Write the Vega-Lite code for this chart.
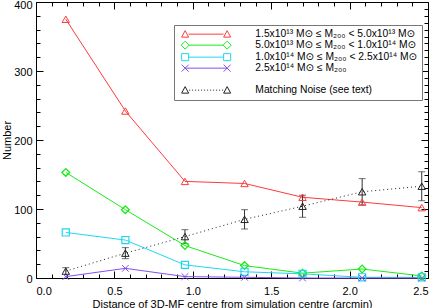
{
  "$schema": "https://vega.github.io/schema/vega-lite/v6.json",
  "width": 392,
  "height": 276,
  "autosize": "none",
  "padding": {"left": 36, "top": 2, "right": 8, "bottom": 30},
  "background": "white",
  "config": {
    "view": {"stroke": "#000", "strokeWidth": 1},
    "font": "Liberation Sans, DejaVu Sans",
    "axis": {
      "grid": false,
      "domain": false,
      "tickColor": "#000",
      "tickWidth": 1,
      "labelColor": "#000",
      "titleColor": "#000",
      "labelFont": "Liberation Sans, DejaVu Sans",
      "titleFont": "Liberation Sans, DejaVu Sans",
      "labelFontSize": 11,
      "titleFontSize": 11,
      "titleFontWeight": "normal"
    }
  },
  "datasets": {
    "main": [
      {"k": "a", "series": "1.5x10¹³ M⊙ ≤ M₂₀₀ < 5.0x10¹³ M⊙", "x": 0.19, "n": 375},
      {"k": "a", "series": "1.5x10¹³ M⊙ ≤ M₂₀₀ < 5.0x10¹³ M⊙", "x": 0.57, "n": 242},
      {"k": "a", "series": "1.5x10¹³ M⊙ ≤ M₂₀₀ < 5.0x10¹³ M⊙", "x": 0.95, "n": 140},
      {"k": "a", "series": "1.5x10¹³ M⊙ ≤ M₂₀₀ < 5.0x10¹³ M⊙", "x": 1.33, "n": 137},
      {"k": "a", "series": "1.5x10¹³ M⊙ ≤ M₂₀₀ < 5.0x10¹³ M⊙", "x": 1.70, "n": 117},
      {"k": "a", "series": "1.5x10¹³ M⊙ ≤ M₂₀₀ < 5.0x10¹³ M⊙", "x": 2.08, "n": 110},
      {"k": "a", "series": "1.5x10¹³ M⊙ ≤ M₂₀₀ < 5.0x10¹³ M⊙", "x": 2.46, "n": 102},
      {"k": "b", "series": "5.0x10¹³ M⊙ ≤ M₂₀₀ < 1.0x10¹⁴ M⊙", "x": 0.19, "n": 153},
      {"k": "b", "series": "5.0x10¹³ M⊙ ≤ M₂₀₀ < 1.0x10¹⁴ M⊙", "x": 0.57, "n": 99},
      {"k": "b", "series": "5.0x10¹³ M⊙ ≤ M₂₀₀ < 1.0x10¹⁴ M⊙", "x": 0.95, "n": 47},
      {"k": "b", "series": "5.0x10¹³ M⊙ ≤ M₂₀₀ < 1.0x10¹⁴ M⊙", "x": 1.33, "n": 18},
      {"k": "b", "series": "5.0x10¹³ M⊙ ≤ M₂₀₀ < 1.0x10¹⁴ M⊙", "x": 1.70, "n": 7},
      {"k": "b", "series": "5.0x10¹³ M⊙ ≤ M₂₀₀ < 1.0x10¹⁴ M⊙", "x": 2.08, "n": 13},
      {"k": "b", "series": "5.0x10¹³ M⊙ ≤ M₂₀₀ < 1.0x10¹⁴ M⊙", "x": 2.46, "n": 3},
      {"k": "c", "series": "1.0x10¹⁴ M⊙ ≤ M₂₀₀ < 2.5x10¹⁴ M⊙", "x": 0.19, "n": 66},
      {"k": "c", "series": "1.0x10¹⁴ M⊙ ≤ M₂₀₀ < 2.5x10¹⁴ M⊙", "x": 0.57, "n": 55},
      {"k": "c", "series": "1.0x10¹⁴ M⊙ ≤ M₂₀₀ < 2.5x10¹⁴ M⊙", "x": 0.95, "n": 19},
      {"k": "c", "series": "1.0x10¹⁴ M⊙ ≤ M₂₀₀ < 2.5x10¹⁴ M⊙", "x": 1.33, "n": 9},
      {"k": "c", "series": "1.0x10¹⁴ M⊙ ≤ M₂₀₀ < 2.5x10¹⁴ M⊙", "x": 1.70, "n": 6},
      {"k": "c", "series": "1.0x10¹⁴ M⊙ ≤ M₂₀₀ < 2.5x10¹⁴ M⊙", "x": 2.08, "n": 1},
      {"k": "c", "series": "1.0x10¹⁴ M⊙ ≤ M₂₀₀ < 2.5x10¹⁴ M⊙", "x": 2.46, "n": 1},
      {"k": "d", "series": "2.5x10¹⁴ M⊙ ≤ M₂₀₀", "x": 0.19, "n": 2},
      {"k": "d", "series": "2.5x10¹⁴ M⊙ ≤ M₂₀₀", "x": 0.57, "n": 14},
      {"k": "d", "series": "2.5x10¹⁴ M⊙ ≤ M₂₀₀", "x": 0.95, "n": 2},
      {"k": "d", "series": "2.5x10¹⁴ M⊙ ≤ M₂₀₀", "x": 1.33, "n": 1},
      {"k": "d", "series": "2.5x10¹⁴ M⊙ ≤ M₂₀₀", "x": 1.70, "n": 0},
      {"k": "d", "series": "2.5x10¹⁴ M⊙ ≤ M₂₀₀", "x": 2.08, "n": 0},
      {"k": "d", "series": "2.5x10¹⁴ M⊙ ≤ M₂₀₀", "x": 2.46, "n": 0},
      {"k": "noise", "series": "Matching Noise (see text)", "x": 0.19, "n": 10, "lo": 5, "hi": 15},
      {"k": "noise", "series": "Matching Noise (see text)", "x": 0.57, "n": 36, "lo": 28, "hi": 44},
      {"k": "noise", "series": "Matching Noise (see text)", "x": 0.95, "n": 60, "lo": 50, "hi": 70},
      {"k": "noise", "series": "Matching Noise (see text)", "x": 1.33, "n": 85, "lo": 71, "hi": 99},
      {"k": "noise", "series": "Matching Noise (see text)", "x": 1.70, "n": 104, "lo": 88, "hi": 120},
      {"k": "noise", "series": "Matching Noise (see text)", "x": 2.08, "n": 125, "lo": 106, "hi": 144},
      {"k": "noise", "series": "Matching Noise (see text)", "x": 2.46, "n": 133, "lo": 112, "hi": 154}
    ],
    "legend": [
      {"series": "1.5x10¹³ M⊙ ≤ M₂₀₀ < 5.0x10¹³ M⊙", "x": 1.0, "n": 200},
      {"series": "5.0x10¹³ M⊙ ≤ M₂₀₀ < 1.0x10¹⁴ M⊙", "x": 1.0, "n": 200},
      {"series": "1.0x10¹⁴ M⊙ ≤ M₂₀₀ < 2.5x10¹⁴ M⊙", "x": 1.0, "n": 200},
      {"series": "2.5x10¹⁴ M⊙ ≤ M₂₀₀", "x": 1.0, "n": 200},
      {"series": " ", "x": 1.0, "n": 200},
      {"series": "Matching Noise (see text)", "x": 1.0, "n": 200}
    ]
  },
  "layer": [
    {
      "data": {"name": "legend"},
      "mark": {"type": "point", "filled": false, "opacity": 0, "strokeWidth": 1},
      "encoding": {
        "x": {
          "field": "x", "type": "quantitative",
          "scale": {"domain": [0, 2.5], "nice": false, "zero": false},
          "axis": {
            "orient": "bottom", "values": [0, 0.5, 1, 1.5, 2, 2.5], "format": ".1f",
            "ticks": false, "labelPadding": 7,
            "title": "Distance of 3D-MF centre from simulation centre (arcmin)", "titlePadding": 2
          }
        },
        "y": {
          "field": "n", "type": "quantitative",
          "scale": {"domain": [0, 400], "nice": false, "zero": false},
          "axis": {
            "orient": "left", "values": [0, 100, 200, 300, 400],
            "ticks": false, "labelPadding": 4,
            "labelOffset": {"condition": {"test": "datum.value === 400", "value": 3}, "value": 1},
            "title": "Number", "titlePadding": 1
          }
        },
        "color": {
          "field": "series", "type": "nominal",
          "scale": {
            "domain": ["1.5x10¹³ M⊙ ≤ M₂₀₀ < 5.0x10¹³ M⊙", "5.0x10¹³ M⊙ ≤ M₂₀₀ < 1.0x10¹⁴ M⊙", "1.0x10¹⁴ M⊙ ≤ M₂₀₀ < 2.5x10¹⁴ M⊙", "2.5x10¹⁴ M⊙ ≤ M₂₀₀", " ", "Matching Noise (see text)"],
            "range": ["#ff3b3b", "#18ec18", "#1ed8f0", "#8450ec", "transparent", "#222222"]
          },
          "legend": {
            "orient": "none", "legendX": 138, "legendY": 23,
            "title": null, "padding": 4, "strokeColor": "#777", "fillColor": "white",
            "symbolSize": 36, "symbolOffset": 23, "labelOffset": 44,
            "symbolStrokeWidth": 1, "symbolOpacity": 1,
            "labelFontSize": 10.3, "labelFont": "Liberation Sans, DejaVu Sans", "labelColor": "#000",
            "labelLimit": 320, "rowPadding": -1.5
          }
        },
        "shape": {
          "field": "series", "type": "nominal",
          "scale": {
            "domain": ["1.5x10¹³ M⊙ ≤ M₂₀₀ < 5.0x10¹³ M⊙", "5.0x10¹³ M⊙ ≤ M₂₀₀ < 1.0x10¹⁴ M⊙", "1.0x10¹⁴ M⊙ ≤ M₂₀₀ < 2.5x10¹⁴ M⊙", "2.5x10¹⁴ M⊙ ≤ M₂₀₀", " ", "Matching Noise (see text)"],
            "range": [
              "M-5.83,0L5.83,0M-8.17,1L-5.83,1L-7,-1.17ZM5.83,1L8.17,1L7,-1.17Z",
              "M-5.67,0L5.67,0M-7,-1.33L-5.67,0L-7,1.33L-8.33,0ZM7,-1.33L8.33,0L7,1.33L5.67,0Z",
              "M-5.83,0L5.83,0M-8.17,-1.17H-5.83V1.17H-8.17ZM5.83,-1.17H8.17V1.17H5.83Z",
              "M-7,0L7,0M-8.17,-1.17L-5.83,1.17M-8.17,1.17L-5.83,-1.17M5.83,-1.17L8.17,1.17M5.83,1.17L8.17,-1.17",
              "M0,0L0.01,0",
              "M-5.67,0h0.33M-4.67,0h0.33M-3.67,0h0.33M-2.67,0h0.33M-1.67,0h0.33M-0.67,0h0.33M0.33,0h0.33M1.33,0h0.33M2.33,0h0.33M3.33,0h0.33M4.33,0h0.33M5.33,0h0.33M-8.17,1L-5.83,1L-7,-1.17ZM5.83,1L8.17,1L7,-1.17Z"
            ]
          }
        }
      }
    },
    {
      "data": {"name": "main"},
      "transform": [{"filter": "datum.k !== 'noise'"}],
      "mark": {"type": "line", "strokeWidth": 1},
      "encoding": {
        "x": {
          "field": "x", "type": "quantitative",
          "axis": {
            "orient": "bottom", "values": [0, 0.1, 0.2, 0.3, 0.4, 0.5, 0.6, 0.7, 0.8, 0.9, 1, 1.1, 1.2, 1.3, 1.4, 1.5, 1.6, 1.7, 1.8, 1.9, 2, 2.1, 2.2, 2.3, 2.4, 2.5],
            "labels": false, "title": null,
            "tickSize": {"condition": {"test": "abs(datum.value * 2 - round(datum.value * 2)) < 0.001", "value": -7}, "value": -4}
          }
        },
        "y": {
          "field": "n", "type": "quantitative",
          "axis": {
            "orient": "left", "values": [0, 20, 40, 60, 80, 100, 120, 140, 160, 180, 200, 220, 240, 260, 280, 300, 320, 340, 360, 380, 400],
            "labels": false, "title": null,
            "tickSize": {"condition": {"test": "datum.value % 100 === 0", "value": -7}, "value": -4}
          }
        },
        "color": {"field": "series", "type": "nominal"},
        "detail": {"field": "k"}
      }
    },
    {
      "data": {"name": "main"},
      "transform": [{"filter": "datum.k === 'noise'"}],
      "mark": {"type": "line", "strokeWidth": 1, "strokeDash": [1, 3]},
      "encoding": {
        "x": {
          "field": "x", "type": "quantitative",
          "axis": {
            "orient": "top", "values": [0, 0.1, 0.2, 0.3, 0.4, 0.5, 0.6, 0.7, 0.8, 0.9, 1, 1.1, 1.2, 1.3, 1.4, 1.5, 1.6, 1.7, 1.8, 1.9, 2, 2.1, 2.2, 2.3, 2.4, 2.5],
            "labels": false, "title": null,
            "tickSize": {"condition": {"test": "abs(datum.value * 2 - round(datum.value * 2)) < 0.001", "value": -7}, "value": -4}
          }
        },
        "y": {
          "field": "n", "type": "quantitative",
          "axis": {
            "orient": "right", "values": [0, 10, 20, 30, 40, 50, 60, 70, 80, 90, 100, 110, 120, 130, 140, 150, 160, 170, 180, 190, 200, 210, 220, 230, 240, 250, 260, 270, 280, 290, 300, 310, 320, 330, 340, 350, 360, 370, 380, 390, 400],
            "labels": false, "title": null,
            "tickSize": {"condition": {"test": "datum.value % 100 === 0", "value": -7}, "value": -4}
          }
        },
        "color": {"field": "series", "type": "nominal"}
      }
    },
    {
      "data": {"name": "main"},
      "transform": [{"filter": "datum.k === 'noise'"}],
      "mark": {"type": "rule", "color": "#333", "strokeWidth": 1},
      "encoding": {
        "x": {"field": "x", "type": "quantitative", "axis": null},
        "y": {"field": "lo", "type": "quantitative", "axis": null},
        "y2": {"field": "hi"}
      }
    },
    {
      "data": {"name": "main"},
      "transform": [{"filter": "datum.k === 'noise'"}],
      "mark": {"type": "tick", "orient": "horizontal", "color": "#333", "size": 7, "thickness": 1},
      "encoding": {
        "x": {"field": "x", "type": "quantitative", "axis": null},
        "y": {"field": "lo", "type": "quantitative", "axis": null}
      }
    },
    {
      "data": {"name": "main"},
      "transform": [{"filter": "datum.k === 'noise'"}],
      "mark": {"type": "tick", "orient": "horizontal", "color": "#333", "size": 7, "thickness": 1},
      "encoding": {
        "x": {"field": "x", "type": "quantitative", "axis": null},
        "y": {"field": "hi", "type": "quantitative", "axis": null}
      }
    },
    {
      "data": {"name": "main"},
      "transform": [{"filter": "datum.k === 'a' || datum.k === 'noise'"}],
      "mark": {"type": "point", "shape": "triangle-up", "filled": false, "size": 55, "strokeWidth": 1, "opacity": 1},
      "encoding": {
        "x": {"field": "x", "type": "quantitative", "axis": null},
        "y": {"field": "n", "type": "quantitative", "axis": null},
        "color": {"field": "series", "type": "nominal"}
      }
    },
    {
      "data": {"name": "main"},
      "transform": [{"filter": "datum.k === 'b'"}],
      "mark": {"type": "point", "shape": "diamond", "filled": false, "size": 60, "strokeWidth": 1.3, "opacity": 1},
      "encoding": {
        "x": {"field": "x", "type": "quantitative", "axis": null},
        "y": {"field": "n", "type": "quantitative", "axis": null},
        "color": {"field": "series", "type": "nominal"}
      }
    },
    {
      "data": {"name": "main"},
      "transform": [{"filter": "datum.k === 'c'"}],
      "mark": {"type": "point", "shape": "square", "filled": false, "size": 50, "strokeWidth": 1.2, "opacity": 1},
      "encoding": {
        "x": {"field": "x", "type": "quantitative", "axis": null},
        "y": {"field": "n", "type": "quantitative", "axis": null},
        "color": {"field": "series", "type": "nominal"}
      }
    },
    {
      "data": {"name": "main"},
      "transform": [{"filter": "datum.k === 'd'"}],
      "mark": {"type": "point", "shape": "M-1,-1L1,1M-1,1L1,-1", "filled": false, "size": 45, "strokeWidth": 1, "opacity": 1},
      "encoding": {
        "x": {"field": "x", "type": "quantitative", "axis": null},
        "y": {"field": "n", "type": "quantitative", "axis": null},
        "color": {"field": "series", "type": "nominal"}
      }
    }
  ],
  "resolve": {"axis": {"x": "independent", "y": "independent"}}
}
